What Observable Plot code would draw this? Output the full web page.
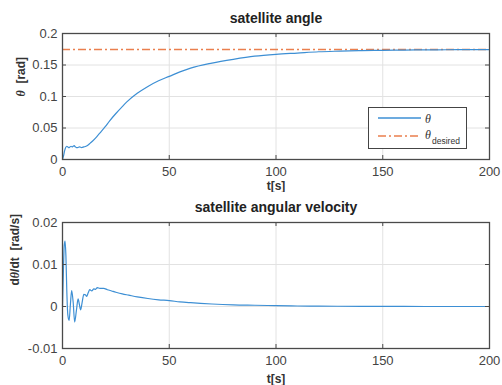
<!DOCTYPE html>
<html><head><meta charset="utf-8">
<script src="https://cdn.jsdelivr.net/npm/d3@7"></script>
<script src="https://cdn.jsdelivr.net/npm/@observablehq/plot@0.6"></script>
<style>
body{margin:0;background:#fff;}
#wrap{position:relative;width:502px;height:385px;font-family:'Liberation Sans',Arial,sans-serif;}
#wrap svg{display:block;}
#legend{position:absolute;left:368px;top:107px;width:97px;height:40px;border:1px solid #444;background:#fff;}
</style></head>
<body><div id="wrap"></div>
<script>
// ---- data ----
const xTicks = [0, 50, 100, 150, 200];
const thetaTicks = [0, 0.05, 0.1, 0.15, 0.2];
const omegaTicks = [-0.01, 0, 0.01, 0.02];
const thetaDesired = 0.1745;

const tTheta = [0,0.5,1,1.5,2,2.5,3,3.5,4,4.5,5,5.5,6,6.5,7,8,9,10,11,12,13,14,16,18,20,22,25,28,30,35,40,45,50,55,60,70,80,90,100,110,120,130,140,150,160,170,180,190,200];
const theta = [0,0.006,0.014,0.019,0.021,0.020,0.019,0.020,0.021,0.020,0.021,0.022,0.020,0.019,0.019,0.020,0.019,0.020,0.021,0.023,0.026,0.029,0.036,0.044,0.052,0.061,0.073,0.084,0.091,0.105,0.116,0.125,0.132,0.139,0.145,0.153,0.159,0.164,0.167,0.169,0.171,0.172,0.1728,0.1733,0.1737,0.174,0.1742,0.1743,0.1744];

const tOmega = [0,0.4,0.8,1.2,1.6,2.0,2.5,3.1,3.7,4.3,5.0,5.7,6.5,7.3,7.9,8.5,9.2,10,10.7,11.3,12,12.8,13.7,14.7,15.5,16.3,17.5,19.3,21,23,25,28,31,35,40,45,50,55,60,70,80,90,100,110,120,140,160,180,200];
const omega = [0,0.008,0.0145,0.0156,0.012,0.004,-0.002,-0.0033,0.0005,0.0038,0.001,-0.0037,-0.001,0.0018,0.0005,-0.0008,0.001,0.0029,0.0028,0.0024,0.0032,0.004,0.0037,0.0042,0.0041,0.0045,0.0043,0.0043,0.004,0.0037,0.0034,0.003,0.0027,0.0023,0.0019,0.0016,0.0014,0.0011,0.0009,0.0006,0.0004,0.0003,0.0002,0.00012,0.00008,0.00003,0.00001,0,0];

// ---- style ----
const BLUE = "#3d8fd4", ORANGE = "#ea7f4e", GRID = "#e2e2e2", FRAME = "#4a4a4a", TXT = "#444";

function panel({height, mt, mb, ml, mr, yDomain, yTicks, series, extra, title, ylabel, ylabelDx, xlabelDy}) {
  const fh = height - mt - mb, fw = 502 - ml - mr;
  return Plot.plot({
    width: 502, height, marginTop: mt, marginBottom: mb, marginLeft: ml, marginRight: mr,
    style: {fontFamily: "'Liberation Sans', Arial, sans-serif", fontSize: "13px", color: TXT, background: "#fff"},
    x: {domain: [0, 200]},
    y: {domain: yDomain},
    marks: [
      Plot.gridX(xTicks, {stroke: GRID, strokeOpacity: 1}),
      Plot.gridY(yTicks, {stroke: GRID, strokeOpacity: 1}),
      ...extra,
      Plot.line(series, {x: "t", y: "v", stroke: BLUE, strokeWidth: 1.2, curve: "monotone-x"}),
      Plot.tickX(xTicks, {x: d => d, insetTop: fh - 4, stroke: FRAME}),
      Plot.tickX(xTicks, {x: d => d, insetBottom: fh - 4, stroke: FRAME}),
      Plot.tickY(yTicks, {y: d => d, insetRight: fw - 4, stroke: FRAME}),
      Plot.tickY(yTicks, {y: d => d, insetLeft: fw - 4, stroke: FRAME}),
      Plot.frame({stroke: FRAME, strokeWidth: 1.3}),
      Plot.axisX(xTicks, {tickSize: 0, tickPadding: 7, tickFormat: d => `${d}`, label: null, fill: TXT, fontSize: 13}),
      Plot.axisY(yTicks, {tickSize: 0, tickPadding: 5, tickFormat: d => `${d}`, label: null, fill: TXT, fontSize: 13}),
      Plot.text([title], {frameAnchor: "top", dy: -15, lineAnchor: "middle", fontWeight: "bold", fontSize: 14, fill: "#222"}),
      Plot.text(["t[s]"], {frameAnchor: "bottom", dy: xlabelDy, lineAnchor: "middle", fontWeight: "bold", fontSize: 12, fill: "#333"}),
      Plot.text([ylabel], {frameAnchor: "left", dx: ylabelDx, rotate: -90, lineAnchor: "middle", fontWeight: "bold", fontSize: 12, fill: "#333"})
    ]
  });
}

const wrap = document.getElementById("wrap");

const topPanel = panel({
  height: 192, mt: 33, mb: 33, ml: 62, mr: 13,
  yDomain: [0, 0.2], yTicks: thetaTicks,
  series: tTheta.map((t, i) => ({t, v: theta[i]})),
  extra: [Plot.ruleY([thetaDesired], {stroke: ORANGE, strokeWidth: 1.4, strokeDasharray: "8,3,2,3"})],
  title: "satellite angle", ylabel: "θ  [rad]", ylabelDx: -41, xlabelDy: 27
});
const bottomPanel = panel({
  height: 193, mt: 30, mb: 37, ml: 62, mr: 13,
  yDomain: [-0.01, 0.02], yTicks: omegaTicks,
  series: tOmega.map((t, i) => ({t, v: omega[i]})),
  extra: [],
  title: "satellite angular velocity", ylabel: "dθ/dt  [rad/s]", ylabelDx: -47, xlabelDy: 31
});
wrap.appendChild(topPanel);
wrap.appendChild(bottomPanel);

// italic theta in y labels
d3.select(wrap).selectAll("svg text").each(function() {
  const s = d3.select(this);
  const txt = this.textContent;
  if (txt.includes("θ") && this.children.length === 0) {
    const parts = txt.split("θ");
    s.text(null);
    parts.forEach((p, i) => {
      if (i > 0) s.append("tspan").attr("font-style", "italic").attr("font-family", "'Liberation Serif', serif").text("θ");
      if (p) s.append("tspan").text(p);
    });
  }
});

// legend
const leg = document.createElement("div");
leg.id = "legend";
leg.innerHTML = `<svg width="97" height="40" style="font-family:'Liberation Serif',serif;">
  <line x1="9" y1="10" x2="52" y2="10" stroke="${BLUE}" stroke-width="1.3"/>
  <text x="56" y="14.5" font-size="12" font-style="italic" fill="#333">θ</text>
  <line x1="9" y1="28" x2="52" y2="28" stroke="${ORANGE}" stroke-width="1.4" stroke-dasharray="8,3,2,3"/>
  <text x="56" y="31" font-size="12" font-style="italic" fill="#333">θ</text>
  <text x="63" y="36" font-size="8.5" fill="#333" font-family="'Liberation Sans',Arial,sans-serif">desired</text>
</svg>`;
wrap.appendChild(leg);
</script></body></html>
